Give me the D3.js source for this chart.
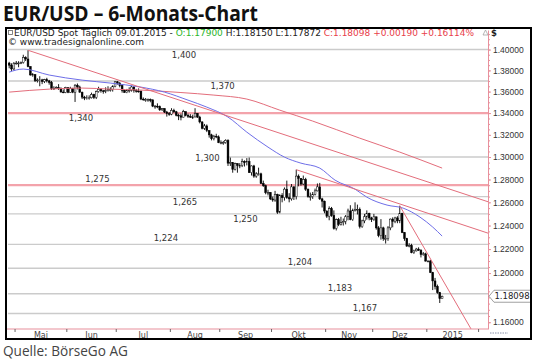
<!DOCTYPE html>
<html lang="de">
<head>
<meta charset="UTF-8">
<title>EUR/USD – 6-Monats-Chart</title>
<script src="https://cdn.jsdelivr.net/npm/d3@7.9.0/dist/d3.min.js"></script>
<style>
    body { margin: 0; background: #fff; }
    svg { display: block; font-family: "DejaVu Sans", Verdana, sans-serif; }
    .lvl-label { font-size: 8.5px; fill: #333; text-anchor: middle; }
    .axis-y text { font-size: 8.5px; fill: #333; }
    .axis-y path, .axis-y line { stroke: #e8909c; }
    .month { font-size: 8px; fill: #444; text-anchor: middle; }
    .legend { font-size: 9px; fill: #222; }
</style>
</head>
<body>
<svg id="chart" width="540" height="363"></svg>
<script>
// --- daily bars, 28.04.2014 .. 09.01.2015 (trading days) ---
const opens = [
1.3870,1.3850,1.3814,1.3868,1.3870, 1.3870,1.3875,1.3924,1.3909,1.3836,
1.3757,1.3760,1.3703,1.3709,1.3710, 1.3695,1.3712,1.3701,1.3686,1.3628,
1.3632,1.3636,1.3631,1.3596,1.3591, 1.3637,1.3593,1.3628,1.3594,1.3660,
1.3643,1.3594,1.3548,1.3539,1.3542, 1.3542,1.3573,1.3545,1.3600,1.3622,
1.3607,1.3604,1.3610,1.3618,1.3619, 1.3648,1.3692,1.3679,1.3656,1.3611,
1.3591,1.3609,1.3613,1.3643,1.3610, 1.3605,1.3604,1.3530,1.3525,1.3525,
1.3525,1.3523,1.3464,1.3464,1.3460, 1.3430,1.3440,1.3410,1.3395,1.3390,
1.3425,1.3412,1.3380,1.3375,1.3362, 1.3413,1.3380,1.3370,1.3362,1.3364,
1.3398,1.3363,1.3318,1.3260,1.3282, 1.3240,1.3200,1.3165,1.3188,1.3182,
1.3130,1.3130,1.3130,1.3150,1.2945, 1.2950,1.2890,1.2940,1.2925,1.2925,
1.2960,1.2950,1.2960,1.2860,1.2920, 1.2830,1.2850,1.2850,1.2765,1.2745,
1.2685,1.2685,1.2630,1.2620,1.2670, 1.2515,1.2660,1.2640,1.2715,1.2640,
1.2630,1.2735,1.2650,1.2830,1.2810, 1.2760,1.2800,1.2715,1.2650,1.2650,
1.2670,1.2700,1.2735,1.2630,1.2610, 1.2525,1.2480,1.2545,1.2485,1.2375,
1.2450,1.2410,1.2425,1.2435,1.2475, 1.2525,1.2450,1.2530,1.2540,1.2540,
1.2390,1.2440,1.2475,1.2505,1.2465, 1.2450,1.2475,1.2380,1.2315,1.2380,
1.2290,1.2290,1.2380,1.2455,1.2435, 1.2465,1.2440,1.2505,1.2340,1.2290,
1.2225,1.2230,1.2170,1.2185,1.2200, 1.2190,1.2155,1.2160,1.2100,1.2100,
1.2005,1.1935,1.1890,1.1840,1.1790];
const highs = [
1.3882,1.3868,1.3880,1.3890,1.3888, 1.3885,1.3950,1.3935,1.3993,1.3840,
1.3775,1.3765,1.3725,1.3745,1.3720, 1.3720,1.3730,1.3710,1.3700,1.3650,
1.3650,1.3670,1.3640,1.3620,1.3645, 1.3640,1.3645,1.3635,1.3670,1.3676,
1.3655,1.3600,1.3560,1.3565,1.3565, 1.3590,1.3580,1.3610,1.3645,1.3630,
1.3615,1.3640,1.3650,1.3640,1.3660, 1.3700,1.3700,1.3690,1.3665,1.3615,
1.3625,1.3640,1.3655,1.3650,1.3625, 1.3630,1.3610,1.3545,1.3540,1.3535,
1.3535,1.3525,1.3475,1.3490,1.3470, 1.3445,1.3445,1.3420,1.3410,1.3445,
1.3440,1.3420,1.3395,1.3395,1.3430, 1.3415,1.3395,1.3390,1.3385,1.3445,
1.3400,1.3375,1.3325,1.3300,1.3295, 1.3240,1.3210,1.3200,1.3210,1.3195,
1.3150,1.3145,1.3160,1.3160,1.2995, 1.2955,1.2950,1.2945,1.2945,1.2985,
1.2970,1.2990,1.2995,1.2925,1.2930, 1.2865,1.2905,1.2860,1.2790,1.2755,
1.2710,1.2690,1.2650,1.2700,1.2675, 1.2670,1.2680,1.2730,1.2790,1.2680,
1.2760,1.2740,1.2887,1.2845,1.2810, 1.2835,1.2815,1.2720,1.2685,1.2690,
1.2720,1.2765,1.2770,1.2640,1.2615, 1.2530,1.2565,1.2560,1.2530,1.2460,
1.2465,1.2475,1.2460,1.2490,1.2545, 1.2575,1.2545,1.2600,1.2580,1.2555,
1.2450,1.2500,1.2530,1.2510,1.2475, 1.2500,1.2475,1.2395,1.2455,1.2390,
1.2320,1.2395,1.2460,1.2470,1.2475, 1.2480,1.2570,1.2510,1.2345,1.2295,
1.2250,1.2245,1.2195,1.2210,1.2215, 1.2200,1.2175,1.2170,1.2105,1.2110,
1.2010,1.1960,1.1905,1.1845,1.1815];
const lows = [
1.3820,1.3795,1.3800,1.3855,1.3830, 1.3860,1.3865,1.3890,1.3830,1.3750,
1.3740,1.3690,1.3685,1.3650,1.3670, 1.3680,1.3685,1.3665,1.3615,1.3615,
1.3625,1.3615,1.3590,1.3585,1.3585, 1.3585,1.3590,1.3585,1.3503,1.3620,
1.3590,1.3530,1.3520,1.3525,1.3525, 1.3535,1.3530,1.3530,1.3590,1.3590,
1.3580,1.3585,1.3600,1.3600,1.3600, 1.3640,1.3665,1.3640,1.3590,1.3590,
1.3585,1.3590,1.3600,1.3590,1.3590, 1.3590,1.3520,1.3515,1.3505,1.3505,
1.3500,1.3455,1.3440,1.3445,1.3420, 1.3420,1.3400,1.3367,1.3375,1.3380,
1.3400,1.3370,1.3335,1.3333,1.3360, 1.3370,1.3355,1.3355,1.3345,1.3360,
1.3355,1.3305,1.3250,1.3245,1.3225, 1.3175,1.3150,1.3150,1.3170,1.3125,
1.3115,1.3110,1.3120,1.2920,1.2920, 1.2860,1.2880,1.2860,1.2900,1.2910,
1.2915,1.2925,1.2860,1.2835,1.2815, 1.2815,1.2835,1.2760,1.2735,1.2670,
1.2660,1.2620,1.2605,1.2605,1.2500, 1.2505,1.2600,1.2615,1.2630,1.2600,
1.2615,1.2620,1.2625,1.2740,1.2745, 1.2750,1.2700,1.2640,1.2615,1.2630,
1.2660,1.2695,1.2620,1.2555,1.2505, 1.2465,1.2445,1.2475,1.2365,1.2358,
1.2395,1.2400,1.2400,1.2410,1.2445, 1.2445,1.2440,1.2520,1.2495,1.2375,
1.2380,1.2420,1.2450,1.2445,1.2430, 1.2440,1.2365,1.2300,1.2280,1.2270,
1.2247,1.2270,1.2360,1.2385,1.2420, 1.2420,1.2420,1.2335,1.2270,1.2220,
1.2215,1.2165,1.2160,1.2180,1.2185, 1.2130,1.2145,1.2095,1.2090,1.2000,
1.1860,1.1865,1.1830,1.1755,1.17872];
const closes = [
1.3850,1.3814,1.3868,1.3870,1.3870, 1.3875,1.3924,1.3909,1.3836,1.3757,
1.3760,1.3703,1.3709,1.3710,1.3695, 1.3712,1.3701,1.3686,1.3628,1.3632,
1.3636,1.3631,1.3596,1.3591,1.3637, 1.3593,1.3628,1.3594,1.3660,1.3643,
1.3594,1.3548,1.3539,1.3542,1.3542, 1.3573,1.3545,1.3600,1.3622,1.3607,
1.3604,1.3610,1.3618,1.3619,1.3648, 1.3692,1.3679,1.3656,1.3611,1.3591,
1.3609,1.3613,1.3643,1.3610,1.3605, 1.3604,1.3530,1.3525,1.3525,1.3525,
1.3523,1.3464,1.3464,1.3460,1.3430, 1.3440,1.3410,1.3395,1.3390,1.3425,
1.3412,1.3380,1.3375,1.3362,1.3413, 1.3380,1.3370,1.3362,1.3364,1.3398,
1.3363,1.3318,1.3260,1.3282,1.3240, 1.3200,1.3165,1.3188,1.3182,1.3130,
1.3130,1.3130,1.3150,1.2945,1.2950, 1.2890,1.2940,1.2925,1.2925,1.2960,
1.2950,1.2960,1.2860,1.2920,1.2830, 1.2850,1.2850,1.2765,1.2745,1.2685,
1.2685,1.2630,1.2620,1.2670,1.2515, 1.2660,1.2640,1.2715,1.2640,1.2630,
1.2735,1.2650,1.2830,1.2810,1.2760, 1.2800,1.2715,1.2650,1.2650,1.2670,
1.2700,1.2735,1.2630,1.2610,1.2525, 1.2480,1.2545,1.2485,1.2375,1.2450,
1.2410,1.2425,1.2435,1.2475,1.2525, 1.2450,1.2530,1.2540,1.2540,1.2390,
1.2440,1.2475,1.2505,1.2465,1.2450, 1.2475,1.2380,1.2315,1.2380,1.2290,
1.2290,1.2380,1.2455,1.2435,1.2465, 1.2440,1.2505,1.2340,1.2290,1.2225,
1.2230,1.2170,1.2185,1.2200,1.2190, 1.2155,1.2160,1.2100,1.2100,1.2005,
1.1935,1.1890,1.1840,1.1790,1.18098];

// moving averages: [bar index, price]
const maFast = [[0,1.3784],[6,1.3813],[17,1.3756],[31,1.3708],[43,1.3680],[56,1.3642],
    [66,1.3595],[76,1.3520],[84,1.3455],[93,1.3363],[101,1.3225],[110,1.3089],[117,1.2999],
    [124,1.2945],[132,1.2901],[138.5,1.2794],[147,1.2715],[152,1.2645],[160.6,1.2576],
    [167.4,1.2550],[174.6,1.2472],[180,1.2387],[184,1.2310]];
const maSlow = [[0,1.3595],[17,1.3623],[31,1.3633],[43,1.3623],[56,1.3614],[73,1.3591],
    [87,1.3567],[101,1.3530],[115,1.3427],[129,1.3326],[149,1.3170],[166,1.3044],[184,1.2901]];

// trend lines: two anchor points each [bar index, price]
const trendLines = [
    [[8, 1.3993], [203.5, 1.2605]],
    [[122, 1.2887], [203.5, 1.2335]],
    [[166, 1.2570], [196.3, 1.1546]]
];

// horizontal levels
const levels      = [1.400, 1.370, 1.340, 1.300, 1.275, 1.265, 1.250, 1.224, 1.204, 1.183, 1.167];
const levelLabels = ["1,400","1,370","1,340","1,300","1,275","1,265","1,250","1,224","1,204","1,183","1,167"];
const levelFrom   = [-0.5, -0.5, -0.5, 92.5, -0.5, -0.5, -0.5, -0.5, -0.5, -0.5, -0.5];
const levelLabelAt = [74.3, 90.7, 30.5, 84.3, 37.5, 74.7, 100.4, 66.6, 123.6, 140.6, 151.2];
const levelLabelPos = ["below","below","below","on","above","below","below","above","above","above","above"];
const redLevels = [1.340, 1.275];

// 1.18 is hidden behind the last-price tag
const axisTicks = [1.40, 1.38, 1.36, 1.34, 1.32, 1.30, 1.28, 1.26, 1.24, 1.22, 1.20, 1.16];
const monthLabels = ["Mai", "Jun", "Jul", "Aug", "Sep", "Okt", "Nov", "Dez", "2015"];
const lastPrice = "1.18098";

// --- layout ---
const plot = { left: 7, right: 488, top: 30, bottom: 329 };
const svg = d3.select("#chart");
svg.append("rect").attr("width", 540).attr("height", 363).attr("fill", "#fff");

const x = d3.scaleLinear().domain([-0.5, 203.5]).range([8, plot.right]);
const y = d3.scaleLog().domain([1.1546, 1.4190]).range([plot.bottom, plot.top]);

// trading days incl. future part of the axis
const days = d3.timeDay.range(new Date(2014, 3, 28), new Date(2015, 1, 28))
    .filter(d => d.getDay() !== 0 && d.getDay() !== 6);
const monthStarts = [];
days.forEach((d, i) => { if (i > 0 && d.getMonth() !== days[i - 1].getMonth()) monthStarts.push(i); });

// title & source
svg.append("text").attr("x", 3).attr("y", 21)
    .attr("font-family", "'Open Sans', sans-serif").attr("font-weight", 700)
    .attr("font-size", 20.5).attr("fill", "#111")
    .attr("textLength", 255).attr("lengthAdjust", "spacingAndGlyphs")
    .text("EUR/USD – 6-Monats-Chart");
svg.append("text").attr("x", 3).attr("y", 356)
    .attr("font-family", "'Open Sans', sans-serif").attr("font-size", 14.5).attr("fill", "#444")
    .attr("textLength", 125).attr("lengthAdjust", "spacingAndGlyphs")
    .text("Quelle: BörseGo AG");

// clip for the plot
svg.append("clipPath").attr("id", "clip").append("rect")
    .attr("x", plot.left).attr("y", plot.top)
    .attr("width", plot.right - plot.left).attr("height", plot.bottom - plot.top);
const g = svg.append("g").attr("clip-path", "url(#clip)");

// levels
levels.forEach((lv, i) => {
    const red = redLevels.includes(lv);
    g.append("line")
        .attr("x1", x(levelFrom[i])).attr("x2", plot.right)
        .attr("y1", y(lv)).attr("y2", y(lv))
        .attr("stroke", red ? "#f3a3ab" : "#cbcbcb")
        .attr("stroke-width", red ? 2.2 : 1.4);
    const dy = levelLabelPos[i] === "below" ? 8 : levelLabelPos[i] === "above" ? -3 : 3.5;
    g.append("text").attr("class", "lvl-label")
        .attr("x", x(levelLabelAt[i])).attr("y", y(lv) + dy)
        .text(levelLabels[i]);
});

// candles
const bars = d3.range(closes.length);
g.append("g").selectAll("line").data(bars).join("line")
    .attr("x1", i => x(i)).attr("x2", i => x(i))
    .attr("y1", i => y(highs[i])).attr("y2", i => y(lows[i]))
    .attr("stroke", "#000").attr("stroke-width", 0.9);
g.append("g").selectAll("rect").data(bars).join("rect")
    .attr("x", i => x(i) - 0.9).attr("width", 1.8)
    .attr("y", i => y(Math.max(opens[i], closes[i])))
    .attr("height", i => Math.max(0.8, Math.abs(y(opens[i]) - y(closes[i]))))
    .attr("fill", i => closes[i] >= opens[i] ? "#fff" : "#000")
    .attr("stroke", "#000").attr("stroke-width", 0.5);

// moving averages
const maLine = d3.line().x(d => x(d[0])).y(d => y(d[1])).curve(d3.curveMonotoneX);
g.append("path").attr("d", maLine(maSlow)).attr("fill", "none")
    .attr("stroke", "#e36d7b").attr("stroke-width", 1);
g.append("path").attr("d", maLine(maFast)).attr("fill", "none")
    .attr("stroke", "#6e6ee8").attr("stroke-width", 1);

// trend lines
const straight = d3.line().x(d => x(d[0])).y(d => y(d[1]));
trendLines.forEach(t => {
    g.append("path").attr("d", straight(t)).attr("fill", "none")
        .attr("stroke", "#e36d7b").attr("stroke-width", 1);
});

// right price axis
svg.append("g").attr("class", "axis-y")
    .attr("transform", `translate(${plot.right},0)`)
    .call(d3.axisRight(y).tickValues(d3.range(1.16, 1.4151, 0.005)).tickSize(2).tickSizeOuter(0).tickFormat(""));
svg.append("g").attr("class", "axis-y")
    .attr("transform", `translate(${plot.right},0)`)
    .call(d3.axisRight(y).tickValues(axisTicks).tickSize(3).tickSizeOuter(0).tickPadding(2)
        .tickFormat(d3.format(".5f")))
    .call(a => a.select(".domain").remove());

// bottom axis
svg.append("line").attr("x1", plot.left).attr("x2", plot.right)
    .attr("y1", plot.bottom).attr("y2", plot.bottom)
    .attr("stroke", "#e8909c").attr("stroke-width", 1.2);
monthStarts.forEach((s, k) => {
    svg.append("line").attr("x1", x(s - 0.5)).attr("x2", x(s - 0.5))
        .attr("y1", plot.bottom).attr("y2", plot.bottom + 3)
        .attr("stroke", "#666");
    if (k < monthLabels.length) {
        const next = monthStarts[k + 1] !== undefined ? monthStarts[k + 1] : s + 21;
        svg.append("text").attr("class", "month")
            .attr("x", x((s + next - 1) / 2)).attr("y", 338)
            .text(monthLabels[k]);
    }
});

// last price tag
const ty = y(closes[closes.length - 1]);
svg.append("path")
    .attr("d", `M489,${ty}L494,${ty - 6}H531V${ty + 6}H494Z`)
    .attr("fill", "#fff").attr("stroke", "#888").attr("stroke-width", 0.8);
svg.append("text").attr("x", 512).attr("y", ty + 3).attr("text-anchor", "middle")
    .attr("font-size", 8.5).attr("fill", "#222").text(lastPrice);

// small mark bottom right
svg.append("line").attr("x1", 490).attr("x2", 508).attr("y1", 333).attr("y2", 333)
    .attr("stroke", "#8890a8").attr("stroke-dasharray", "1.5,1");

// header legend
svg.append("rect").attr("x", 8.5).attr("y", 30.5).attr("width", 4).attr("height", 4)
    .attr("fill", "none").attr("stroke", "#666").attr("stroke-width", 0.8);
const leg = svg.append("text").attr("class", "legend").attr("x", 14).attr("y", 36);
leg.append("tspan").text("EUR/USD Spot Täglich  09.01.2015 - ");
leg.append("tspan").attr("fill", "#2bb52b").text("O:1.17900");
leg.append("tspan").text(" H:1.18150 L:1.17872 ");
leg.append("tspan").attr("fill", "#e8404a").text("C:1.18098 +0.00190 +0.16114%");
svg.append("text").attr("class", "legend").attr("x", 8).attr("y", 45)
    .text("© www.tradesignalonline.com");
svg.append("text").attr("x", 491).attr("y", 36).attr("font-size", 8.5).attr("font-weight", "bold")
    .attr("fill", "#222").text("$");
svg.append("path").attr("d", "M483,35L485.5,30L488,35Z").attr("fill", "none")
    .attr("stroke", "#999").attr("stroke-width", 0.7);

// frame
svg.append("rect").attr("x", 6).attr("y", 28).attr("width", 525).attr("height", 311)
    .attr("fill", "none").attr("stroke", "#000").attr("stroke-width", 2);
</script>
</body>
</html>
